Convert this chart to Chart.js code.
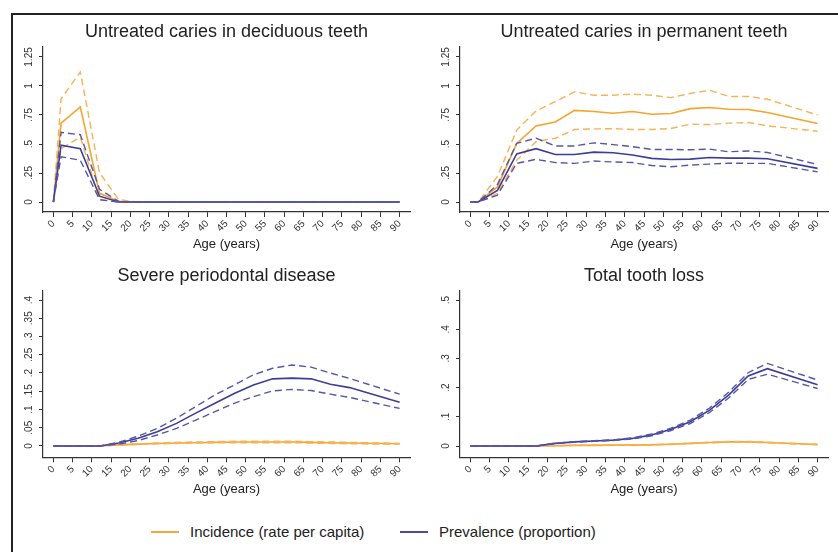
<!DOCTYPE html>
<html>
<head>
<meta charset="utf-8">
<script src="https://cdn.jsdelivr.net/npm/chart.js@4.4.1/dist/chart.umd.min.js"></script>
<style>
  body { margin: 0; background: #fff; width: 838px; height: 552px; overflow: hidden; position: relative;
         font-family: "Liberation Sans", Arial, sans-serif; }
  .frame { position: absolute; left: 11px; top: 13px; right: 0; bottom: 0;
           border-top: 2px solid #222; border-left: 2px solid #222; }
  canvas { position: absolute; }
  .key { position: absolute; top: 531px; width: 28px; height: 2px; }
  .keytext { position: absolute; top: 523px; font-size: 15px; line-height: 18px; color: #222; white-space: nowrap; }
</style>
</head>
<body>
<div class="frame"></div>
<canvas id="c1" width="428" height="245" style="left:14px;top:15px"></canvas>
<canvas id="c2" width="407" height="245" style="left:431px;top:15px"></canvas>
<canvas id="c3" width="428" height="243" style="left:14px;top:258px"></canvas>
<canvas id="c4" width="407" height="243" style="left:431px;top:258px"></canvas>

<div class="key" style="left:151px;background:#F6A73A"></div>
<div class="keytext" style="left:190px">Incidence (rate per capita)</div>
<div class="key" style="left:400px;background:#4A4AA2"></div>
<div class="keytext" style="left:439px">Prevalence (proportion)</div>

<script>
// age points (midpoints of age groups)
const ages = [0, 2, 7, 12, 17, 22, 27, 32, 37, 42, 47, 52, 57, 62, 67, 72, 77, 90];
const xTicks = [0, 5, 10, 15, 20, 25, 30, 35, 40, 45, 50, 55, 60, 65, 70, 75, 80, 85, 90];

// Untreated caries in deciduous teeth
const decIncMid  = [0, 0.68, 0.82, 0.075, 0.005, 0, 0, 0, 0, 0, 0, 0, 0, 0, 0, 0, 0, 0];
const decIncHi   = [0, 0.89, 1.12, 0.25, 0.02, 0, 0, 0, 0, 0, 0, 0, 0, 0, 0, 0, 0, 0];
const decIncLo   = [0, 0.46, 0.56, 0.02, 0, 0, 0, 0, 0, 0, 0, 0, 0, 0, 0, 0, 0, 0];
const decPrevMid = [0, 0.49, 0.46, 0.05, 0, 0, 0, 0, 0, 0, 0, 0, 0, 0, 0, 0, 0, 0];
const decPrevHi  = [0, 0.60, 0.58, 0.11, 0.005, 0, 0, 0, 0, 0, 0, 0, 0, 0, 0, 0, 0, 0];
const decPrevLo  = [0, 0.39, 0.36, 0.02, 0, 0, 0, 0, 0, 0, 0, 0, 0, 0, 0, 0, 0, 0];

// Untreated caries in permanent teeth
const perIncMid  = [0, 0, 0.13, 0.505, 0.655, 0.69, 0.79, 0.78, 0.765, 0.78, 0.757, 0.763, 0.805, 0.814, 0.80, 0.797, 0.771, 0.677];
const perIncHi   = [0, 0, 0.22, 0.62, 0.785, 0.865, 0.95, 0.92, 0.92, 0.93, 0.92, 0.90, 0.935, 0.963, 0.91, 0.91, 0.886, 0.75];
const perIncLo   = [0, 0, 0.075, 0.36, 0.52, 0.55, 0.625, 0.63, 0.632, 0.625, 0.625, 0.634, 0.67, 0.668, 0.68, 0.685, 0.657, 0.61];
const perPrevMid = [0, 0, 0.10, 0.414, 0.46, 0.41, 0.41, 0.43, 0.425, 0.405, 0.376, 0.367, 0.37, 0.384, 0.378, 0.378, 0.373, 0.29];
const perPrevHi  = [0, 0, 0.15, 0.505, 0.55, 0.483, 0.483, 0.51, 0.495, 0.477, 0.453, 0.453, 0.45, 0.456, 0.433, 0.44, 0.427, 0.324];
const perPrevLo  = [0, 0, 0.06, 0.333, 0.368, 0.34, 0.333, 0.353, 0.345, 0.34, 0.315, 0.304, 0.318, 0.327, 0.335, 0.333, 0.333, 0.26];

// Severe periodontal disease
const perioIncMid  = [0, 0, 0, 0, 0.003, 0.005, 0.007, 0.008, 0.009, 0.010, 0.011, 0.011, 0.011, 0.011, 0.010, 0.009, 0.008, 0.006];
const perioIncHi   = [0, 0, 0, 0, 0.004, 0.006, 0.008, 0.010, 0.011, 0.012, 0.013, 0.013, 0.013, 0.013, 0.012, 0.011, 0.010, 0.007];
const perioIncLo   = [0, 0, 0, 0, 0.002, 0.004, 0.006, 0.007, 0.008, 0.009, 0.009, 0.009, 0.009, 0.009, 0.008, 0.007, 0.006, 0.005];
const perioPrevMid = [0, 0, 0, 0, 0.008, 0.021, 0.039, 0.062, 0.090, 0.117, 0.144, 0.167, 0.184, 0.186, 0.184, 0.169, 0.160, 0.120];
const perioPrevHi  = [0, 0, 0, 0, 0.010, 0.027, 0.048, 0.076, 0.108, 0.140, 0.167, 0.195, 0.213, 0.222, 0.216, 0.200, 0.185, 0.142];
const perioPrevLo  = [0, 0, 0, 0, 0.005, 0.015, 0.030, 0.048, 0.071, 0.094, 0.117, 0.135, 0.151, 0.155, 0.152, 0.142, 0.133, 0.103];

// Total tooth loss
const lossIncMid  = [0, 0, 0, 0, 0, 0.001, 0.002, 0.002, 0.003, 0.003, 0.004, 0.006, 0.009, 0.012, 0.014, 0.014, 0.012, 0.005];
const lossIncHi   = [0, 0, 0, 0, 0, 0.001, 0.002, 0.003, 0.003, 0.004, 0.005, 0.007, 0.010, 0.013, 0.016, 0.016, 0.013, 0.006];
const lossIncLo   = [0, 0, 0, 0, 0, 0.001, 0.002, 0.002, 0.002, 0.003, 0.004, 0.005, 0.008, 0.011, 0.013, 0.013, 0.011, 0.004];
const lossPrevMid = [0, 0, 0, 0, 0, 0.009, 0.014, 0.017, 0.020, 0.026, 0.038, 0.057, 0.083, 0.123, 0.175, 0.240, 0.265, 0.210];
const lossPrevHi  = [0, 0, 0, 0, 0, 0.010, 0.015, 0.018, 0.021, 0.028, 0.041, 0.061, 0.089, 0.130, 0.185, 0.251, 0.283, 0.226];
const lossPrevLo  = [0, 0, 0, 0, 0, 0.008, 0.013, 0.016, 0.019, 0.024, 0.035, 0.053, 0.077, 0.115, 0.165, 0.228, 0.246, 0.197];

const cariesTicks = [0, 0.25, 0.5, 0.75, 1, 1.25];
const perioTicks = [0, 0.05, 0.1, 0.15, 0.2, 0.25, 0.3, 0.35, 0.4];
const lossTicks = [0, 0.1, 0.2, 0.3, 0.4, 0.5];

const ORANGE = '#F5A42C', ORANGE_D = '#F7B252';
const BLUE = '#3D3D99', BLUE_D = '#5555AA';
const AXIS = '#333';

Chart.defaults.font.family = '"Liberation Sans", Arial, sans-serif';

function pts(vals) {
    return ages.map((a, i) => ({ x: a, y: vals[i] }));
}

function line(vals, color, dashed) {
    return {
        data: pts(vals),
        borderColor: color,
        borderWidth: dashed ? 1.4 : 1.6,
        borderDash: dashed ? [7, 4] : [],
        pointRadius: 0,
        tension: 0,
        fill: false
    };
}

// stata style: .25 instead of 0.25
function stataNum(v) {
    return v === 0 ? '0' : String(v).replace(/^0\./, '.');
}

function noPad(s) {
    s.paddingLeft = 0; s.paddingRight = 0; s.paddingTop = 0; s.paddingBottom = 0;
}

function makePanel(id, cfg) {
    const ctx = document.getElementById(id).getContext('2d');
    return new Chart(ctx, {
        type: 'line',
        data: {
            datasets: [
                line(cfg.prev[1], BLUE_D, true),
                line(cfg.prev[2], BLUE_D, true),
                line(cfg.prev[0], BLUE, false),
                line(cfg.inc[1], ORANGE_D, true),
                line(cfg.inc[2], ORANGE_D, true),
                line(cfg.inc[0], ORANGE, false)
            ]
        },
        options: {
            responsive: false,
            animation: false,
            layout: { padding: { left: 0, top: 0, right: cfg.padRight, bottom: 0 } },
            plugins: {
                legend: { display: false },
                tooltip: { enabled: false },
                title: {
                    display: true,
                    text: cfg.title,
                    fullSize: false,
                    color: '#222',
                    font: { size: 18, weight: 'normal', lineHeight: 1.2 },
                    padding: cfg.titlePad
                }
            },
            scales: {
                x: {
                    type: 'linear',
                    min: -2.7,
                    max: 92.7,
                    afterBuildTicks: s => { s.ticks = xTicks.map(v => ({ value: v })); },
                    afterFit: s => { s.height = cfg.xHeight; noPad(s); },
                    grid: { drawOnChartArea: false, tickLength: 5, tickColor: AXIS, tickWidth: 1 },
                    border: { display: true, color: AXIS, width: 1.2 },
                    ticks: {
                        autoSkip: false, minRotation: 45, maxRotation: 45, padding: 1,
                        color: '#333', font: { size: 10 },
                        callback: v => String(v)
                    },
                    title: {
                        display: true, text: 'Age (years)', color: '#222',
                        font: { size: 13 }, padding: { top: 0, bottom: cfg.agePad }
                    }
                },
                y: {
                    min: cfg.yMin,
                    max: cfg.yMax,
                    afterBuildTicks: s => { s.ticks = cfg.yTicks.map(v => ({ value: v })); },
                    afterFit: s => { s.width = 29; noPad(s); },
                    grid: { drawOnChartArea: false, tickLength: 4, tickColor: AXIS, tickWidth: 1 },
                    border: { display: true, color: AXIS, width: 1.2 },
                    ticks: {
                        autoSkip: false, minRotation: 90, maxRotation: 90, crossAlign: 'center',
                        padding: cfg.yTickPad, color: '#333', font: { size: 10 },
                        callback: v => stataNum(v)
                    }
                }
            }
        }
    });
}

makePanel('c1', {
    title: 'Untreated caries in deciduous teeth',
    inc: [decIncMid, decIncHi, decIncLo],
    prev: [decPrevMid, decPrevHi, decPrevLo],
    yTicks: cariesTicks, yMin: -0.086, yMax: 1.336, yTickPad: 0.5,
    padRight: 32, xHeight: 48, agePad: 8, titlePad: { top: 6.2, bottom: 4.2 }
});

makePanel('c2', {
    title: 'Untreated caries in permanent teeth',
    inc: [perIncMid, perIncHi, perIncLo],
    prev: [perPrevMid, perPrevHi, perPrevLo],
    yTicks: cariesTicks, yMin: -0.086, yMax: 1.336, yTickPad: 0.5,
    padRight: 10, xHeight: 48, agePad: 8, titlePad: { top: 6.2, bottom: 4.2 }
});

makePanel('c3', {
    title: 'Severe periodontal disease',
    inc: [perioIncMid, perioIncHi, perioIncLo],
    prev: [perioPrevMid, perioPrevHi, perioPrevLo],
    yTicks: perioTicks, yMin: -0.031, yMax: 0.4255, yTickPad: 3,
    padRight: 32, xHeight: 43.7, agePad: 4.2, titlePad: { top: 7.2, bottom: 3.9 }
});

makePanel('c4', {
    title: 'Total tooth loss',
    inc: [lossIncMid, lossIncHi, lossIncLo],
    prev: [lossPrevMid, lossPrevHi, lossPrevLo],
    yTicks: lossTicks, yMin: -0.0387, yMax: 0.532, yTickPad: 5.8,
    padRight: 10, xHeight: 43.7, agePad: 4.2, titlePad: { top: 7.2, bottom: 3.9 }
});
</script>
</body>
</html>
